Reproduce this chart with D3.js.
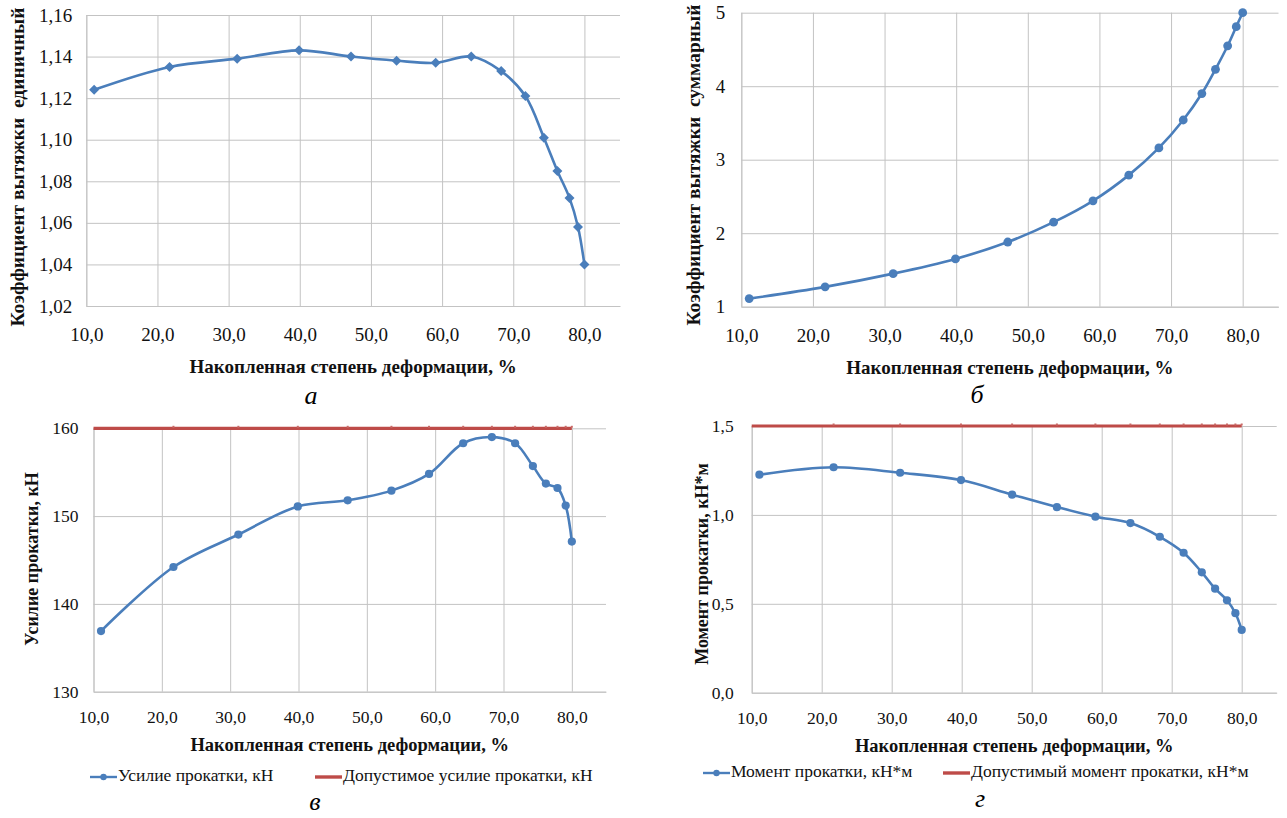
<!DOCTYPE html>
<html>
<head>
<meta charset="utf-8">
<script src="https://cdn.jsdelivr.net/npm/d3@7/dist/d3.min.js"></script>
<style>
  html, body { margin: 0; padding: 0; background: #fff; }
  svg { display: block; }
</style>
</head>
<body>
<div class="chart"></div>
<script>
// accumulated deformation, % (same steps for all four charts)
const deformation = [11.1, 21.7, 31.2, 39.9, 47.2, 53.6, 59.1, 64.1, 68.3, 71.7, 74.3, 76.2, 77.9, 79.1, 80.0];
// the "allowed" series starts at the axis origin
const allowedDeformation = [10.0, 21.7, 31.2, 39.9, 47.2, 53.6, 59.1, 64.1, 68.3, 71.7, 74.3, 76.2, 77.9, 79.1, 80.0];

const elongationSingle = [1.124, 1.135, 1.139, 1.143, 1.140, 1.138, 1.137, 1.140, 1.133, 1.121, 1.101, 1.085, 1.072, 1.058, 1.040];
const elongationTotal = [1.11, 1.27, 1.45, 1.65, 1.88, 2.15, 2.44, 2.79, 3.16, 3.54, 3.90, 4.23, 4.55, 4.81, 5.00];
const rollingForce = [136.9, 144.2, 147.9, 151.1, 151.8, 152.9, 154.8, 158.3, 159.0, 158.3, 155.7, 153.7, 153.2, 151.2, 147.1];
const allowedForce = [160, 160, 160, 160, 160, 160, 160, 160, 160, 160, 160, 160, 160, 160, 160];
const rollingMoment = [1.226, 1.268, 1.237, 1.196, 1.114, 1.044, 0.990, 0.954, 0.877, 0.787, 0.677, 0.585, 0.520, 0.447, 0.353];
const allowedMoment = [1.5, 1.5, 1.5, 1.5, 1.5, 1.5, 1.5, 1.5, 1.5, 1.5, 1.5, 1.5, 1.5, 1.5, 1.5];

const xTicks = [10, 20, 30, 40, 50, 60, 70, 80];
const yTicksSingle = [1.02, 1.04, 1.06, 1.08, 1.10, 1.12, 1.14, 1.16];
const yTicksTotal = [1, 2, 3, 4, 5];
const yTicksForce = [130, 140, 150, 160];
const yTicksMoment = [0, 0.5, 1.0, 1.5];

const xTitle = 'Накопленная степень деформации, %';

const blue = '#4a7ebb';
const red = '#be4b48';
const gridColor = '#c3c3c3';

// pick the first serif family that is really installed (canvas width test)
const hasFont = name => {
  const c = document.createElement('canvas').getContext('2d');
  const s = 'Накопленная степень mmwwlli 0123456789 ABCабв';
  return ['monospace', 'sans-serif', 'serif'].some(base => {
    c.font = `40px ${base}`;
    const w0 = c.measureText(s).width;
    c.font = `40px "${name}", ${base}`;
    return Math.abs(c.measureText(s).width - w0) > 0.5;
  });
};
const serifCandidates = ['Liberation Serif', 'Times New Roman', 'Tinos', 'DejaVu Serif', 'Noto Serif', 'FreeSerif', 'Nimbus Roman', 'Times'];
const serifFont = serifCandidates.filter(hasFont).map(f => `"${f}"`).concat(['serif']).join(', ');

const ru = d3.formatLocale({decimal: ',', thousands: '\u00a0', grouping: [3], currency: ['', '']});

const svg = d3.select('.chart').append('svg')
  .attr('width', 1287)
  .attr('height', 818)
  .style('font-family', serifFont);

svg.append('rect').attr('width', 1287).attr('height', 818).attr('fill', '#fff');

const drawPanel = cfg => {
  const x = d3.scaleLinear().domain([10, 85]).range([cfg.left, cfg.right]);
  const y = d3.scaleLinear().domain(cfg.yDomain).range([cfg.bottom, cfg.top]);
  const g = svg.append('g');

  // gridlines + tick labels through the axes
  const xAxis = d3.axisBottom(x)
    .tickValues(xTicks)
    .tickFormat(ru.format('.1f'))
    .tickSize(-(cfg.bottom - cfg.top))
    .tickSizeOuter(0)
    .tickPadding(cfg.xPad);
  const yAxis = d3.axisLeft(y)
    .tickValues(cfg.yTicks)
    .tickFormat(ru.format(cfg.yFormat))
    .tickSize(-(cfg.right - cfg.left))
    .tickSizeOuter(0)
    .tickPadding(cfg.yPad);

  const gx = g.append('g')
    .attr('transform', `translate(0,${cfg.bottom})`)
    .call(xAxis);
  const gy = g.append('g')
    .attr('transform', `translate(${cfg.left},0)`)
    .call(yAxis);

  [gx, gy].forEach(a => {
    a.attr('font-family', null);
    a.selectAll('line').attr('stroke', gridColor).attr('stroke-width', 1);
    a.select('.domain').attr('stroke', gridColor).attr('stroke-width', 1);
    a.selectAll('text')
      .style('font-family', serifFont)
      .attr('font-size', cfg.tickFont)
      .attr('fill', '#111');
  });

  // series
  const line = d3.line()
    .x(d => x(d[0]))
    .y(d => y(d[1]))
    .curve(d3.curveCatmullRom.alpha(0.5));

  if (cfg.limit) {
    const lim = cfg.limitX.map((v, i) => [v, cfg.limit[i]]);
    g.append('path')
      .datum(lim)
      .attr('d', d3.line().x(d => x(d[0])).y(d => y(d[1])))
      .attr('fill', 'none')
      .attr('stroke', red)
      .attr('stroke-width', 3.2);
    g.selectAll('.limit-mark')
      .data(lim.slice(1))
      .enter().append('rect')
      .attr('class', 'limit-mark')
      .attr('x', d => x(d[0]) - 1)
      .attr('y', d => y(d[1]) - 2.5)
      .attr('width', 2)
      .attr('height', 2)
      .attr('fill', '#c96a67');
  }

  const pts = deformation.map((v, i) => [v, cfg.values[i]]);
  g.append('path')
    .datum(pts)
    .attr('d', line)
    .attr('fill', 'none')
    .attr('stroke', blue)
    .attr('stroke-width', 2.6);

  if (cfg.marker === 'diamond') {
    g.selectAll('.mk')
      .data(pts)
      .enter().append('path')
      .attr('class', 'mk')
      .attr('d', d3.symbol(d3.symbolSquare, 50))
      .attr('transform', d => `translate(${x(d[0])},${y(d[1])}) rotate(45)`)
      .attr('fill', blue);
  } else {
    g.selectAll('.mk')
      .data(pts)
      .enter().append('circle')
      .attr('class', 'mk')
      .attr('cx', d => x(d[0]))
      .attr('cy', d => y(d[1]))
      .attr('r', cfg.markerR)
      .attr('fill', blue);
  }

  // axis titles
  g.append('text')
    .attr('x', (cfg.left + cfg.right) / 2)
    .attr('y', cfg.titleY)
    .attr('text-anchor', 'middle')
    .attr('dominant-baseline', 'middle')
    .attr('font-weight', 'bold')
    .attr('font-size', cfg.titleFont)
    .attr('fill', '#111')
    .text(xTitle);

  g.append('text')
    .attr('transform', `translate(${cfg.yLabelX},${cfg.yLabelY}) rotate(-90)`)
    .attr('text-anchor', 'middle')
    .attr('dominant-baseline', 'middle')
    .attr('font-weight', 'bold')
    .attr('font-size', cfg.yLabelFont)
    .attr('fill', '#111')
    .attr('xml:space', 'preserve')
    .text(cfg.yLabel);

  // legend
  if (cfg.legend) {
    const lg = g.append('g').attr('transform', `translate(0,${cfg.legendY})`);
    cfg.legend.forEach(item => {
      lg.append('line')
        .attr('x1', item.x).attr('x2', item.x + 27)
        .attr('y1', 0).attr('y2', 0)
        .attr('stroke', item.color)
        .attr('stroke-width', item.marker ? 2.4 : 3.4);
      if (item.marker) {
        lg.append('circle').attr('cx', item.x + 13.5).attr('cy', 0).attr('r', 3.2).attr('fill', item.color);
      }
      lg.append('text')
        .attr('x', item.x + 28)
        .attr('y', 0)
        .attr('dominant-baseline', 'middle')
        .attr('font-size', cfg.legendFont)
        .attr('fill', '#111')
        .text(item.label);
    });
  }

  // caption letter under the chart
  svg.append('text')
    .attr('x', cfg.captionX)
    .attr('y', cfg.captionY)
    .attr('text-anchor', 'middle')
    .attr('dominant-baseline', 'middle')
    .attr('font-style', 'italic')
    .attr('font-size', 26)
    .attr('fill', '#000')
    .text(cfg.caption);
};

drawPanel({
  left: 86.3, right: 620, top: 15, bottom: 306,
  yDomain: [1.02, 1.16], yTicks: yTicksSingle, yFormat: '.2f',
  values: elongationSingle, marker: 'diamond',
  xPad: 22, yPad: 14, tickFont: 19, titleFont: 19, yLabelFont: 19.5, titleY: 369,
  yLabel: 'Коэффициент вытяжки  единичный', yLabelX: 20, yLabelY: 167,
  caption: 'а', captionX: 311, captionY: 398
});

drawPanel({
  left: 741.3, right: 1278.5, top: 12.7, bottom: 306.7,
  yDomain: [1, 5], yTicks: yTicksTotal, yFormat: 'd',
  values: elongationTotal, marker: 'circle', markerR: 4.4,
  xPad: 22, yPad: 16, tickFont: 19, titleFont: 19, yLabelFont: 19.5, titleY: 370,
  yLabel: 'Коэффициент вытяжки  суммарный', yLabelX: 696, yLabelY: 165,
  caption: 'б', captionX: 977, captionY: 397
});

drawPanel({
  left: 93.5, right: 606, top: 428.3, bottom: 691.7,
  yDomain: [130, 160], yTicks: yTicksForce, yFormat: 'd',
  values: rollingForce, marker: 'circle', markerR: 4.1,
  limit: allowedForce, limitX: allowedDeformation,
  xPad: 19, yPad: 15, tickFont: 17.5, titleFont: 18.5, yLabelFont: 18, titleY: 747,
  yLabel: 'Усилие прокатки, кН', yLabelX: 34, yLabelY: 559,
  legendY: 777, legendFont: 17.5,
  legend: [
    {x: 90, color: blue, marker: true, label: 'Усилие прокатки, кН'},
    {x: 315, color: red, marker: false, label: 'Допустимое усилие прокатки, кН'}
  ],
  caption: 'в', captionX: 315, captionY: 804
});

drawPanel({
  left: 751.7, right: 1276.7, top: 426, bottom: 692.7,
  yDomain: [0, 1.5], yTicks: yTicksMoment, yFormat: '.1f',
  values: rollingMoment, marker: 'circle', markerR: 4.1,
  limit: allowedMoment, limitX: allowedDeformation,
  xPad: 19, yPad: 18, tickFont: 17.5, titleFont: 18.5, yLabelFont: 18, titleY: 748,
  yLabel: 'Момент прокатки, кН*м', yLabelX: 704, yLabelY: 564,
  legendY: 773, legendFont: 17.5,
  legend: [
    {x: 703, color: blue, marker: true, label: 'Момент прокатки, кН*м'},
    {x: 943, color: red, marker: false, label: 'Допустимый момент прокатки, кН*м'}
  ],
  caption: 'г', captionX: 980, captionY: 801
});
</script>
</body>
</html>
